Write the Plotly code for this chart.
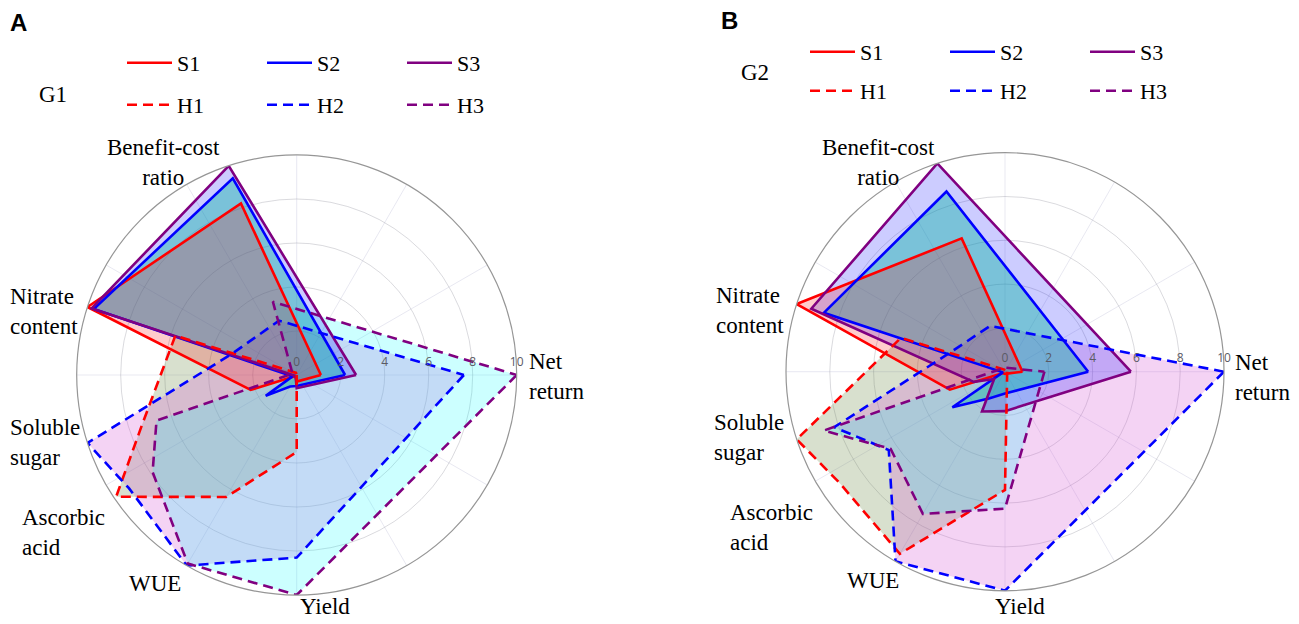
import plotly.graph_objects as go

W, H = 1299, 624
OFF = 8  # page body margin of the browser

categories = ["Net return", "Yield", "WUE", "Ascorbic acid", "Soluble sugar",
              "Nitrate content", "Benefit-cost ratio"]
# angular position (degrees, counterclockwise from east) of each category
angles = [0, 270, 240, 214, 198, 162, 108]

series_names = ["S1", "S2", "S3", "H1", "H2", "H3"]

# Panel A (G1)
g1_S1 = [1.1, 0.3, 0.1, 0.1, 2.2, 10.0, 8.2]
g1_S2 = [2.2, 0.5, 0.6, 1.7, 0.2, 9.7, 9.4]
g1_S3 = [2.7, 0.6, 0.1, 0.1, 0.1, 9.8, 10.0]
g1_H1 = [0.0, 3.5, 6.4, 9.9, 7.4, 5.8, 0.1]
g1_H2 = [7.6, 8.3, 10.0, 9.2, 10.0, 3.1, 2.6]
g1_H3 = [10.0, 10.0, 9.9, 7.9, 6.7, 0.2, 3.5]

# Panel B (G2)
g2_S1 = [0.8, 0.1, 0.1, 0.1, 2.65, 10.0, 6.4]
g2_S2 = [3.8, 1.0, 1.4, 2.9, 0.1, 8.7, 8.65]
g2_S3 = [5.75, 1.8, 2.1, 0.6, 1.5, 9.3, 10.0]
g2_H1 = [0.1, 5.4, 9.6, 9.1, 10.0, 5.0, 0.1]
g2_H2 = [10.0, 10.0, 10.0, 6.4, 8.2, 2.7, 2.2]
g2_H3 = [1.8, 6.25, 7.5, 6.3, 8.7, 0.3, 0.2]

radial_ticks = [0, 2, 4, 6, 8, 10]

line_colors = {"S1": "#ff0000", "S2": "#0000ff", "S3": "#800080",
               "H1": "#ff0000", "H2": "#0000ff", "H3": "#800080"}
fill_colors = {"S1": "rgba(255,0,0,0.2)", "S2": "rgba(0,180,160,0.4)",
               "S3": "rgba(0,0,255,0.2)", "H1": "rgba(100,130,60,0.25)",
               "H2": "rgba(210,80,210,0.25)", "H3": "rgba(0,255,255,0.2)"}

panels = [
    ("polar", {"S1": g1_S1, "S2": g1_S2, "S3": g1_S3, "H1": g1_H1, "H2": g1_H2, "H3": g1_H3},
     "legend", "legend2"),
    ("polar2", {"S1": g2_S1, "S2": g2_S2, "S3": g2_S3, "H1": g2_H1, "H2": g2_H2, "H3": g2_H3},
     "legend3", "legend4"),
]

fig = go.Figure()
fill_order = ["H1", "H2", "H3", "S3", "S2", "S1"]

for subplot, data, legS, legH in panels:
    th = angles + [angles[0]]
    for nm in fill_order:
        v = data[nm]
        fig.add_trace(go.Scatterpolar(
            r=v + [v[0]], theta=th, mode="lines", fill="toself",
            fillcolor=fill_colors[nm], line=dict(width=0, color=fill_colors[nm]),
            showlegend=False, hoverinfo="skip", subplot=subplot))
    for nm in ["S1", "S2", "S3", "H1", "H2", "H3"]:
        v = data[nm]
        fig.add_trace(go.Scatterpolar(
            r=v + [v[0]], theta=th, mode="lines", name=nm,
            line=dict(color=line_colors[nm], width=2.6,
                      dash="solid" if nm.startswith("S") else "10px,6px"),
            legend=legS if nm.startswith("S") else legH,
            subplot=subplot))

def px(x):
    return (x - OFF) / W

def py(y):
    return 1 - (y - OFF) / H

polar_common = dict(
    bgcolor="white",
    angularaxis=dict(rotation=0, direction="counterclockwise", dtick=30,
                     showticklabels=False, ticks="",
                     gridcolor="rgba(205,205,225,0.45)", gridwidth=1,
                     linecolor="rgb(150,150,150)", linewidth=1.2, showline=True),
    radialaxis=dict(range=[0, 10], tickvals=radial_ticks, angle=0,
                    side="counterclockwise", showline=False,
                    ticks="outside", ticklen=4, tickcolor="rgba(0,0,0,0)",
                    gridcolor="rgba(150,150,160,0.35)", gridwidth=1,
                    tickfont=dict(family="Open Sans", size=12, color="rgb(90,90,100)")),
)

rA, cxA, cyA = 220, 296.7, 375
rB, cxB, cyB = 219, 1005, 371.7

leg_common = dict(orientation="h", entrywidth=80, entrywidthmode="pixels",
                  itemwidth=45, bgcolor="rgba(0,0,0,0)", xanchor="left",
                  yanchor="middle", traceorder="normal",
                  font=dict(family="Liberation Serif", size=22, color="black"))

fig.update_layout(
    width=W, height=H, margin=dict(l=0, r=0, t=0, b=0, autoexpand=False),
    paper_bgcolor="white", plot_bgcolor="white",
    polar=dict(domain=dict(x=[px(cxA - rA), px(cxA + rA)], y=[py(cyA + rA), py(cyA - rA)]),
               **polar_common),
    polar2=dict(domain=dict(x=[px(cxB - rB), px(cxB + rB)], y=[py(cyB + rB), py(cyB - rB)]),
                **polar_common),
    legend=dict(x=px(122), y=py(63), **leg_common),
    legend2=dict(x=px(122), y=py(105), **leg_common),
    legend3=dict(x=px(805), y=py(52), **leg_common),
    legend4=dict(x=px(805), y=py(91), **leg_common),
)

serif = dict(family="Liberation Serif", size=23, color="black")
labels = [
    # panel A
    ("<b>A</b>", 8, 22, "left", "left", dict(family="Liberation Sans", size=24, color="black")),
    ("G1", 53, 95, "center", "center", serif),
    ("Benefit-cost<br>ratio", 163, 162, "center", "center", serif),
    ("Nitrate<br>content", 8, 311, "left", "left", serif),
    ("Soluble<br>sugar", 8, 442, "left", "left", serif),
    ("Ascorbic<br>acid", 20, 532, "left", "left", serif),
    ("WUE", 155, 583, "center", "center", serif),
    ("Yield", 325, 606, "center", "center", serif),
    ("Net<br>return", 527, 376, "left", "left", serif),
    # panel B
    ("<b>B</b>", 719, 20, "left", "left", dict(family="Liberation Sans", size=24, color="black")),
    ("G2", 755, 73, "center", "center", serif),
    ("Benefit-cost<br>ratio", 878, 162, "center", "center", serif),
    ("Nitrate<br>content", 714, 310, "left", "left", serif),
    ("Soluble<br>sugar", 712, 437, "left", "left", serif),
    ("Ascorbic<br>acid", 728, 527, "left", "left", serif),
    ("WUE", 873, 580, "center", "center", serif),
    ("Yield", 1020, 606, "center", "center", serif),
    ("Net<br>return", 1233, 377, "left", "left", serif),
]
for text, x, y, xa, al, font in labels:
    fig.add_annotation(text=text, x=px(x), y=py(y), xref="paper", yref="paper",
                       xanchor=xa, yanchor="middle", align=al, showarrow=False,
                       font=font)

fig.write_html("out.html")
